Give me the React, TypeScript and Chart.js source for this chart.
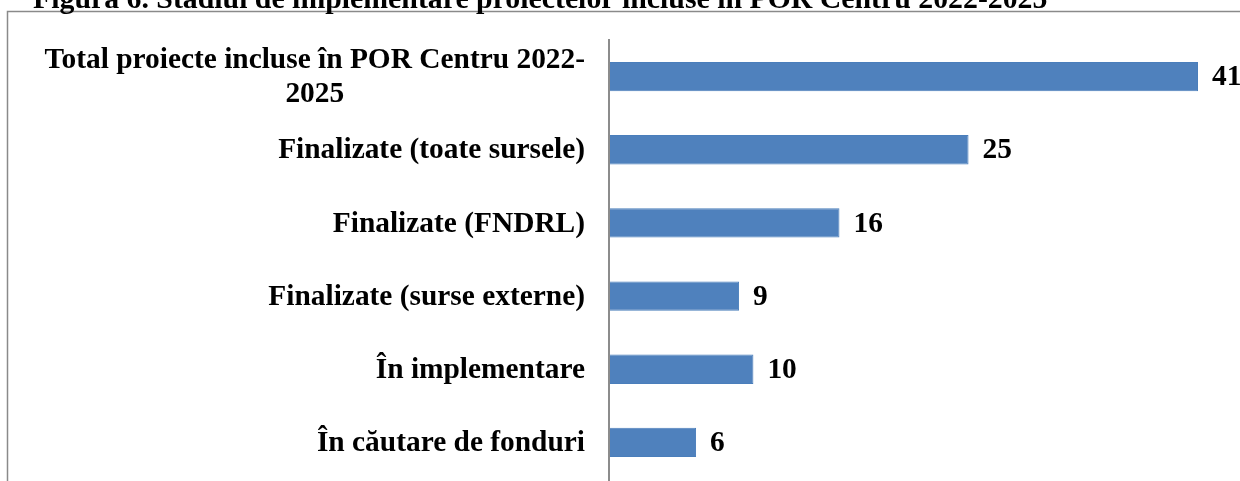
import React, { useEffect, useRef } from "react";
import { Chart, registerables } from "chart.js";

Chart.register(...registerables);

const titleText = "Figura 6. Stadiul de implementare proiectelor incluse în POR Centru 2022-2025";
const categories: (string | string[])[] = [
  ["Total proiecte incluse în POR Centru 2022-", "2025"],
  "Finalizate (toate sursele)",
  "Finalizate (FNDRL)",
  "Finalizate (surse externe)",
  "În implementare",
  "În căutare de fonduri",
];
const values = [41, 25, 16, 9, 10, 6];

const FONT_FAMILY = '"Liberation Serif", "Times New Roman", serif';
const FONT_SIZE = 29.4;
const TITLE_SIZE = 29.8;

const decorPlugin = {
  id: "decor",
  beforeDraw(chart: any) {
    const ctx: CanvasRenderingContext2D = chart.ctx;
    ctx.save();
    ctx.fillStyle = "#ffffff";
    ctx.fillRect(0, 0, chart.width, chart.height);
    // frame
    ctx.strokeStyle = "#8a8a8a";
    ctx.lineWidth = 1.5;
    ctx.beginPath();
    ctx.moveTo(7.5, chart.height);
    ctx.lineTo(7.5, 11.5);
    ctx.lineTo(chart.width, 11.5);
    ctx.stroke();
    // title (cropped at top)
    ctx.fillStyle = "#000000";
    ctx.font = `bold ${TITLE_SIZE}px ${FONT_FAMILY}`;
    ctx.textAlign = "left";
    ctx.textBaseline = "alphabetic";
    ctx.fillText(titleText, 33, 8);
    ctx.restore();
  },
  afterDatasetsDraw(chart: any) {
    const ctx: CanvasRenderingContext2D = chart.ctx;
    const area = chart.chartArea;
    const yScale = chart.scales.y;
    const meta = chart.getDatasetMeta(0);
    ctx.save();
    // axis line
    ctx.strokeStyle = "#8c8c8c";
    ctx.lineWidth = 2;
    ctx.beginPath();
    ctx.moveTo(area.left - 1, area.top - 1);
    ctx.lineTo(area.left - 1, chart.height);
    ctx.stroke();

    ctx.fillStyle = "#000000";
    ctx.font = `bold ${FONT_SIZE}px ${FONT_FAMILY}`;
    ctx.textAlign = "left";
    ctx.textBaseline = "middle";
    // value labels
    meta.data.forEach((bar: any, i: number) => {
      ctx.fillText(String(values[i]), bar.x + 14, bar.y + 1);
    });
    // category labels
    const right = area.left - 25;
    const lh = 34;
    categories.forEach((lab, i) => {
      const lines = Array.isArray(lab) ? lab : [lab];
      const y = yScale.getPixelForValue(i);
      const widths = lines.map((l) => ctx.measureText(l).width);
      const maxW = Math.max(...widths);
      const cx = right - maxW / 2;
      lines.forEach((l, j) => {
        const ly = y + (j - (lines.length - 1) / 2) * lh;
        ctx.fillText(l, cx - widths[j] / 2, ly + 1);
      });
    });
    ctx.restore();
  },
};

export default function App() {
  const ref = useRef<HTMLCanvasElement | null>(null);
  useEffect(() => {
    if (!ref.current) return;
    const chart = new Chart(ref.current, {
      type: "bar",
      data: {
        labels: categories as any,
        datasets: [
          {
            data: values,
            backgroundColor: "#4F81BD",
            borderColor: "#4A7EBB",
            borderWidth: 1,
            barPercentage: 0.4,
            categoryPercentage: 1,
          },
        ],
      },
      options: {
        indexAxis: "y",
        responsive: false,
        animation: false,
        layout: { padding: { left: 610, right: 42, top: 40, bottom: 2 } },
        scales: {
          x: { display: false, min: 0, max: 41 },
          y: { display: false },
        },
        plugins: {
          legend: { display: false },
          tooltip: { enabled: false },
          title: { display: false },
        },
      },
      plugins: [decorPlugin],
    });
    return () => chart.destroy();
  }, []);
  return (
    <div style={{ position: "absolute", left: 0, top: 0, width: 1240, height: 481, overflow: "hidden" }}>
      <canvas ref={ref} width={1240} height={481} style={{ display: "block" }} />
    </div>
  );
}
